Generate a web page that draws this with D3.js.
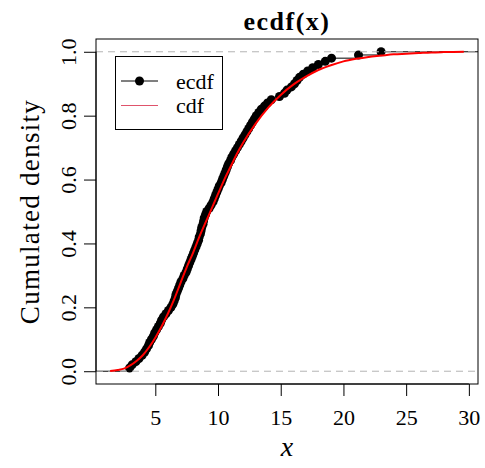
<!DOCTYPE html>
<html><head><meta charset="utf-8">
<script src="https://cdn.jsdelivr.net/npm/d3@7"></script>
<style>body{margin:0;background:#fff}svg{display:block}text{font-family:"Liberation Serif","Times New Roman",serif}</style>
</head><body>
<script>
// sample values (sorted) read from the ecdf points
const sample = [2.95,3.15,3.45,3.7,3.95,4.15,4.3,4.45,4.55,4.7,
4.85,4.95,5.1,5.25,5.4,5.5,5.65,5.85,6.05,6.25,
6.4,6.5,6.6,6.65,6.75,6.85,6.95,7.05,7.2,7.3,
7.45,7.55,7.65,7.75,7.85,7.95,8.05,8.15,8.25,8.35,
8.45,8.5,8.6,8.65,8.7,8.8,8.85,8.9,9.0,9.1,
9.3,9.45,9.6,9.7,9.8,9.9,10.0,10.1,10.25,10.35,
10.45,10.55,10.65,10.75,10.85,11.0,11.1,11.25,11.4,11.55,
11.7,11.85,12.0,12.15,12.3,12.45,12.6,12.75,12.9,13.05,
13.25,13.45,13.7,13.95,14.25,14.9,15.3,15.5,15.85,16.1,
16.3,16.5,16.8,17.15,17.55,18.0,18.55,19.05,21.2,23.0];
// theoretical cdf
const cdfX = [1.4,2,2.5,3,3.5,4,4.5,5,5.5,6,6.5,7,7.5,8,8.5,9,9.5,10,10.5,11,11.5,12,13,14,15,16,17,18,19,20,21,22,23,24,25,26,27,28,29.6];
const cdfY = [0.001,0.004,0.008,0.018,0.032,0.05,0.075,0.105,0.14,0.18,0.225,0.275,0.325,0.37,0.42,0.465,0.51,0.555,0.6,0.64,0.68,0.715,0.775,0.825,0.865,0.897,0.922,0.943,0.958,0.97,0.978,0.984,0.988,0.992,0.994,0.996,0.998,0.999,1.0];
const xlim = [1.4, 29.6];
const ylim = [0, 1];
const xTicks = [5,10,15,20,25,30];
const yTicks = [0,0.2,0.4,0.6,0.8,1.0];
const legendLabels = ["ecdf","cdf"];
const titleText = "ecdf(x)";
const xLabel = "x";
const yLabel = "Cumulated density";

const W = 485, H = 468;
const box = {l:96, r:478, t:39, b:384};
const pad = v => [v[0]-0.04*(v[1]-v[0]), v[1]+0.04*(v[1]-v[0])];
const x = d3.scaleLinear().domain(pad(xlim)).range([box.l, box.r]);
const y = d3.scaleLinear().domain(pad(ylim)).range([box.b, box.t]);

const svg = d3.select("body").append("svg").attr("width",W).attr("height",H);
svg.append("defs").append("clipPath").attr("id","clip")
  .append("rect").attr("x",box.l).attr("y",box.t).attr("width",box.r-box.l).attr("height",box.b-box.t);
const g = svg.append("g").attr("clip-path","url(#clip)");

const n = sample.length;
const [dx0, dx1] = x.domain();
const knots = [dx0-5, ...sample, dx1+5];
for (let i=0;i<=n;i++){
  g.append("line").attr("x1",x(knots[i])).attr("x2",x(knots[i+1]))
   .attr("y1",y(i/n)).attr("y2",y(i/n)).attr("stroke","#000").attr("stroke-width",1);
}
g.selectAll("circle.pt").data(sample).enter().append("circle")
  .attr("cx",d=>x(d)).attr("cy",(d,i)=>y((i+1)/n)).attr("r",4.5).attr("fill","#000");

[0,1].forEach(h=>g.append("line").attr("x1",box.l).attr("x2",box.r).attr("y1",y(h)).attr("y2",y(h))
  .attr("stroke","#b3b3b3").attr("stroke-width",1).attr("stroke-dasharray","7,5"));

const cdfPts = cdfX.map((v,i)=>[v,cdfY[i]]);
g.append("path").datum(cdfPts)
  .attr("d", d3.line().x(d=>x(d[0])).y(d=>y(d[1])).curve(d3.curveMonotoneX))
  .attr("fill","none").attr("stroke","#ff0000").attr("stroke-width",2);

svg.append("rect").attr("x",box.l).attr("y",box.t).attr("width",box.r-box.l).attr("height",box.b-box.t)
  .attr("fill","none").attr("stroke","#000").attr("stroke-width",1);

// axes
const xAxis = d3.axisBottom(x).tickValues(xTicks).tickSize(12).tickFormat(d3.format("d"));
const xa = svg.append("g").attr("transform",`translate(0,${box.b})`).call(xAxis);
xa.select(".domain").attr("d",`M${x(xTicks[0])},0H${x(xTicks[xTicks.length-1])}`);
xa.selectAll("text").attr("font-size",22).attr("font-family","Liberation Serif").attr("fill","#000").attr("dy",null).attr("y",41);
const yAxis = d3.axisLeft(y).tickValues(yTicks).tickSize(12).tickFormat(d3.format(".1f"));
const ya = svg.append("g").attr("transform",`translate(${box.l},0)`).call(yAxis);
ya.select(".domain").attr("d",`M0,${y(yTicks[0])}V${y(yTicks[yTicks.length-1])}`);
ya.selectAll(".tick text").attr("font-size",22).attr("font-family","Liberation Serif").attr("fill","#000")
  .attr("x",null).attr("dy",null).attr("text-anchor","middle")
  .attr("transform","translate(-20,0) rotate(-90)");

// titles
svg.append("text").attr("x",(box.l+box.r)/2).attr("y",30).attr("text-anchor","middle")
  .attr("font-size",26).attr("font-weight","bold").attr("letter-spacing",1.5).text(titleText);
svg.append("text").attr("x",(box.l+box.r)/2).attr("y",456).attr("text-anchor","middle")
  .attr("font-size",28).attr("font-style","italic").text(xLabel);
svg.append("text").attr("transform",`translate(39,${(box.t+box.b)/2}) rotate(-90)`).attr("text-anchor","middle")
  .attr("font-size",27).attr("letter-spacing",1.3).text(yLabel);

// legend
const lg = svg.append("g");
lg.append("rect").attr("x",115.5).attr("y",56.5).attr("width",107).attr("height",73)
  .attr("fill","#fff").attr("stroke","#000").attr("stroke-width",1);
lg.append("line").attr("x1",121).attr("x2",158).attr("y1",81).attr("y2",81).attr("stroke","#000");
lg.append("circle").attr("cx",139.5).attr("cy",81).attr("r",4.5).attr("fill","#000");
lg.append("line").attr("x1",121).attr("x2",158).attr("y1",105.5).attr("y2",105.5).attr("stroke","#df536b");
lg.selectAll("text.lt").data(legendLabels).enter().append("text")
  .attr("x",176).attr("y",(d,i)=>88.5+i*24.5).attr("font-size",22).text(d=>d);
</script>
</body></html>
